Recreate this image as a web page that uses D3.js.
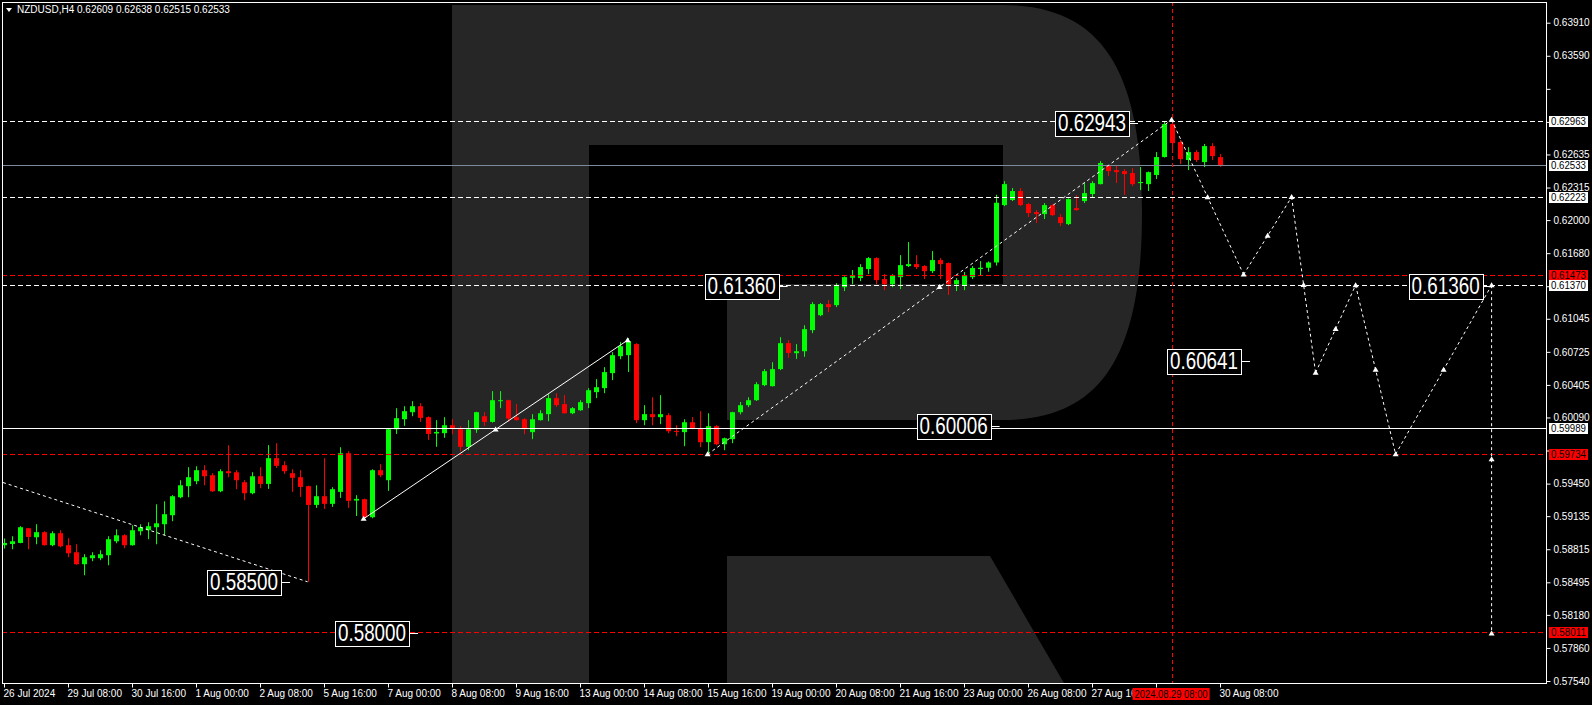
<!DOCTYPE html>
<html><head><meta charset="utf-8">
<script src="https://cdn.jsdelivr.net/npm/d3@7"></script>
<style>html,body{margin:0;padding:0;background:#000;overflow:hidden}svg{display:block}</style>
</head><body>
<svg id="c" width="1592" height="705"></svg>
<script>
// ---------- DATA ----------
const symbolTitle = "NZDUSD,H4  0.62609 0.62638 0.62515 0.62533";
const opens = [0.58854,0.58866,0.58876,0.59018,0.58931,0.58980,0.58854,0.58970,0.58854,0.58786,0.58670,0.58728,0.58728,0.58757,0.58892,0.58950,0.58854,0.58989,0.58999,0.59028,0.59057,0.59144,0.59318,0.59425,0.59473,0.59580,0.59531,0.59376,0.59570,0.59560,0.59463,0.59357,0.59521,0.59447,0.59696,0.59628,0.59551,0.59512,0.59425,0.59244,0.59328,0.59254,0.59370,0.59744,0.59286,0.59299,0.59125,0.59580,0.59483,0.59976,0.60073,0.60141,0.60199,0.60093,0.59935,0.59938,0.60015,0.59976,0.59806,0.59973,0.60102,0.60047,0.60248,0.60257,0.60093,0.60073,0.59948,0.60064,0.60122,0.60277,0.60219,0.60131,0.60160,0.60228,0.60335,0.60374,0.60519,0.60683,0.60693,0.60800,0.60064,0.60122,0.60093,0.60112,0.59960,0.59948,0.60044,0.59986,0.59851,0.60006,0.59831,0.59880,0.60141,0.60209,0.60257,0.60403,0.60393,0.60558,0.60809,0.60712,0.60731,0.60935,0.61080,0.61187,0.61177,0.61351,0.61442,0.61439,0.61526,0.61632,0.61429,0.61380,0.61448,0.61555,0.61574,0.61555,0.61506,0.61613,0.61584,0.61380,0.61371,0.61448,0.61526,0.61539,0.61590,0.62145,0.62194,0.62281,0.62155,0.62077,0.62058,0.62145,0.62029,0.61961,0.62116,0.62184,0.62252,0.62348,0.62523,0.62484,0.62474,0.62455,0.62358,0.62348,0.62436,0.62610,0.62929,0.62755,0.62581,0.62658,0.62561,0.62716,0.62609];
const highs = [0.58919,0.58941,0.59038,0.59022,0.59057,0.58989,0.58989,0.58999,0.58922,0.58863,0.58767,0.58786,0.58805,0.58941,0.59008,0.58960,0.59047,0.59057,0.59076,0.59250,0.59279,0.59338,0.59483,0.59609,0.59618,0.59628,0.59551,0.59589,0.59822,0.59580,0.59483,0.59560,0.59609,0.59822,0.59841,0.59667,0.59589,0.59580,0.59430,0.59434,0.59696,0.59415,0.59802,0.59763,0.59338,0.59305,0.59589,0.59638,0.59985,0.60180,0.60199,0.60248,0.60228,0.60100,0.60064,0.60093,0.60073,0.60006,0.60064,0.60145,0.60141,0.60345,0.60345,0.60262,0.60219,0.60083,0.60122,0.60160,0.60315,0.60325,0.60306,0.60190,0.60257,0.60374,0.60461,0.60577,0.60722,0.60819,0.60858,0.60809,0.60209,0.60286,0.60306,0.60131,0.60015,0.60073,0.60093,0.60151,0.60131,0.60015,0.59895,0.60145,0.60240,0.60286,0.60432,0.60558,0.60625,0.60867,0.60838,0.60800,0.60983,0.61206,0.61197,0.61226,0.61390,0.61455,0.61516,0.61574,0.61642,0.61640,0.61477,0.61475,0.61661,0.61787,0.61661,0.61564,0.61700,0.61632,0.61590,0.61439,0.61497,0.61555,0.61603,0.61600,0.62245,0.62377,0.62310,0.62310,0.62165,0.62097,0.62165,0.62155,0.62058,0.62210,0.62242,0.62358,0.62377,0.62571,0.62532,0.62532,0.62494,0.62503,0.62513,0.62470,0.62658,0.62958,0.62970,0.62774,0.62706,0.62677,0.62736,0.62745,0.62638];
const lows = [0.58822,0.58815,0.58873,0.58815,0.58863,0.58850,0.58844,0.58834,0.58738,0.58665,0.58563,0.58699,0.58709,0.58660,0.58873,0.58825,0.58850,0.58950,0.58912,0.58863,0.58950,0.59086,0.59308,0.59318,0.59444,0.59434,0.59370,0.59367,0.59512,0.59396,0.59289,0.59347,0.59405,0.59399,0.59602,0.59544,0.59370,0.59321,0.58500,0.59215,0.59205,0.59225,0.59312,0.59215,0.59137,0.59110,0.59115,0.59512,0.59380,0.59931,0.60009,0.60102,0.60047,0.59873,0.59806,0.59893,0.59928,0.59763,0.59773,0.59941,0.60009,0.60040,0.60180,0.60047,0.60060,0.59928,0.59880,0.60060,0.60054,0.60193,0.60128,0.60122,0.60155,0.60180,0.60277,0.60325,0.60451,0.60654,0.60529,0.60035,0.60015,0.60015,0.60025,0.59938,0.59909,0.59812,0.59976,0.59802,0.59734,0.59822,0.59773,0.59841,0.60120,0.60190,0.60250,0.60393,0.60390,0.60548,0.60667,0.60657,0.60677,0.60906,0.61070,0.61109,0.61158,0.61313,0.61380,0.61409,0.61477,0.61380,0.61322,0.61351,0.61332,0.61545,0.61526,0.61429,0.61487,0.61429,0.61274,0.61313,0.61322,0.61429,0.61468,0.61500,0.61560,0.62135,0.62184,0.62135,0.62029,0.61971,0.62010,0.62039,0.61942,0.61951,0.62090,0.62165,0.62223,0.62345,0.62426,0.62358,0.62242,0.62329,0.62290,0.62281,0.62397,0.62605,0.62687,0.62542,0.62484,0.62561,0.62513,0.62581,0.62515];
const closes = [0.58876,0.58892,0.59028,0.58934,0.58980,0.58854,0.58970,0.58844,0.58776,0.58670,0.58738,0.58757,0.58767,0.58912,0.58950,0.58854,0.58999,0.59028,0.59038,0.59066,0.59154,0.59328,0.59434,0.59512,0.59580,0.59521,0.59376,0.59570,0.59551,0.59483,0.59357,0.59521,0.59447,0.59696,0.59622,0.59570,0.59506,0.59418,0.59244,0.59328,0.59254,0.59396,0.59744,0.59283,0.59302,0.59125,0.59580,0.59531,0.59976,0.60083,0.60151,0.60199,0.60086,0.59931,0.59950,0.60015,0.59983,0.59806,0.59976,0.60141,0.60047,0.60257,0.60257,0.60080,0.60064,0.59986,0.60073,0.60131,0.60277,0.60209,0.60131,0.60180,0.60238,0.60354,0.60383,0.60529,0.60693,0.60780,0.60829,0.60064,0.60122,0.60093,0.60122,0.59957,0.59950,0.60044,0.59986,0.59851,0.60006,0.59831,0.59889,0.60141,0.60209,0.60257,0.60412,0.60538,0.60558,0.60809,0.60715,0.60731,0.60945,0.61187,0.61187,0.61158,0.61361,0.61448,0.61458,0.61545,0.61632,0.61419,0.61380,0.61468,0.61564,0.61574,0.61545,0.61506,0.61613,0.61574,0.61380,0.61419,0.61458,0.61536,0.61539,0.61590,0.62168,0.62348,0.62281,0.62145,0.62068,0.62058,0.62145,0.62048,0.61971,0.62203,0.62097,0.62261,0.62358,0.62552,0.62474,0.62464,0.62445,0.62348,0.62368,0.62464,0.62610,0.62929,0.62745,0.62590,0.62658,0.62581,0.62716,0.62619,0.62533];

// time axis labels (every 8 bars); "" = label hidden under the cursor box
const timeTickIdx = [0,8,16,24,32,40,48,56,64,72,80,88,96,104,112,120,128,136,144,152];
const timeTickLabels = ["26 Jul 2024","29 Jul 08:00","30 Jul 16:00","1 Aug 00:00","2 Aug 08:00","5 Aug 16:00","7 Aug 00:00","8 Aug 08:00","9 Aug 16:00","13 Aug 00:00","14 Aug 08:00","15 Aug 16:00","19 Aug 00:00","20 Aug 08:00","21 Aug 16:00","23 Aug 00:00","26 Aug 08:00","27 Aug 16:00","","30 Aug 08:00"];
const cursorIdx = 146;
const cursorLabel = "2024.08.29 08:00";

// price axis ticks
const priceTicks = [0.63910,0.63590,0.63270,0.62950,0.62635,0.62315,0.62000,0.61680,0.61360,0.61045,0.60725,0.60405,0.60090,0.59770,0.59450,0.59135,0.58815,0.58495,0.58180,0.57860,0.57540];
const hiddenTickLabels = [0.63270,0.62950,0.61360,0.59770];

// horizontal levels
const levelPrices = [0.62963,0.62533,0.62223,0.61473,0.61370,0.59989,0.59734,0.58011];
const levelKinds  = ["dashW","bid","dashW","dashR","dashW","solidW","dashR","dashR"];

// trend lines (bar index, price)
const trendA = [[-45,0.60594],[38,0.58500]];
const trendB = [[45,0.59110],[78,0.60838]];
const trendC = [[88,0.59734],[146,0.62970]];
// forecast path
const fcIdx   = [146,155,161,164,169,174,186,186];
const fcPrice = [0.62970,0.61473,0.62223,0.60523,0.61370,0.59734,0.61370,0.58000];

// boxed text labels
const labelTexts  = ["0.62943","0.61360","0.61360","0.60641","0.60006","0.58500","0.58000"];
const labelIdx    = [141.8,98,186,155.8,124.5,35.8,51.8];
const labelPrices = [0.62943,0.61360,0.61360,0.60641,0.60006,0.58500,0.58000];

// ---------- DRAW ----------
const W=1592,H=705;
const plot={l:2,t:2,r:1546,b:683};
const svg=d3.select("#c");
const x=d3.scaleLinear().domain([0,152]).range([3.6,1219.6]);
const y=d3.scaleLinear().domain([0.57540,0.63910]).range([681,22.7]);
const font="Liberation Sans, Arial, sans-serif";

svg.append("rect").attr("width",W).attr("height",H).attr("fill","#000");
const defs=svg.append("defs");
defs.append("clipPath").attr("id","pc").append("rect")
  .attr("x",plot.l).attr("y",plot.t).attr("width",plot.r-plot.l).attr("height",plot.b-plot.t);
const cx0=x(cursorIdx);
defs.append("clipPath").attr("id","tc").append("rect")
  .attr("x",0).attr("y",plot.b).attr("width",cx0-39).attr("height",H-plot.b);
const g=svg.append("g").attr("clip-path","url(#pc)");

// watermark R
const wm="#262626";
g.append("path").attr("fill",wm)
 .attr("d","M452,5 H1003 C1105,5 1142,75 1142,212 C1142,350 1105,420 1003,420 H727 V284 H1003 V145 H589 V690 H452 Z");
g.append("path").attr("fill",wm)
 .attr("d","M727,556 H990 L1068,690 H727 Z");

// candles
const bars=d3.range(opens.length).map(i=>({i,o:opens[i],h:highs[i],l:lows[i],c:closes[i]}));
const cg=g.append("g");
bars.forEach(d=>{
  const col=d.c>=d.o?"#00ff00":"#ff0000";
  const cx=Math.round(x(d.i))+0.5;
  cg.append("line").attr("x1",cx).attr("x2",cx).attr("y1",y(d.h)).attr("y2",y(d.l)).attr("stroke",col).attr("stroke-width",1);
  const top=y(Math.max(d.o,d.c)), bot=y(Math.min(d.o,d.c));
  cg.append("rect").attr("x",cx-2.5).attr("width",5).attr("y",top).attr("height",Math.max(1,bot-top)).attr("fill",col);
});

// horizontal levels
levelPrices.forEach((p,k)=>{
  const kind=levelKinds[k];
  const yy=Math.round(y(p))+0.5;
  const ln=g.append("line").attr("x1",plot.l).attr("x2",plot.r).attr("y1",yy).attr("y2",yy).attr("stroke-width",1);
  if(kind==="dashW") ln.attr("stroke","#fff").attr("stroke-dasharray","5,3");
  else if(kind==="dashR") ln.attr("stroke","#ff0000").attr("stroke-dasharray","5,3");
  else if(kind==="bid") ln.attr("stroke","#7b8b9b");
  else ln.attr("stroke","#fff");
});
// vertical cursor
g.append("line").attr("x1",Math.round(cx0)+0.5).attr("x2",Math.round(cx0)+0.5)
 .attr("y1",plot.t).attr("y2",plot.b).attr("stroke","#ff0000").attr("stroke-dasharray","4,3");

// trend lines
function seg(pts,dash){
  const l=g.append("line").attr("x1",x(pts[0][0])).attr("y1",y(pts[0][1])).attr("x2",x(pts[1][0])).attr("y2",y(pts[1][1]))
    .attr("stroke","#fff").attr("stroke-width",1);
  if(dash) l.attr("stroke-dasharray",dash);
}
function marker(px,py){
  g.append("path").attr("d",`M${px-3},${py+2} L${px},${py-3} L${px+3},${py+2} Z`).attr("fill","#fff");
}
seg(trendA,"3,3");
seg(trendB,null);
seg(trendC,"3,3");
[trendB,trendC].forEach(t=>{
  marker(x(t[0][0]),y(t[0][1]));marker(x(t[1][0]),y(t[1][1]));
  marker((x(t[0][0])+x(t[1][0]))/2,(y(t[0][1])+y(t[1][1]))/2);
});
for(let k=0;k<fcIdx.length-1;k++){
  seg([[fcIdx[k],fcPrice[k]],[fcIdx[k+1],fcPrice[k+1]]],"3,3");
  const x0=x(fcIdx[k]),y0=y(fcPrice[k]),x1=x(fcIdx[k+1]),y1=y(fcPrice[k+1]);
  marker((x0+x1)/2,(y0+y1)/2);
  marker(x1,y1);
}

// boxed labels
labelTexts.forEach((t,k)=>{
  const ax=x(labelIdx[k]), ay=Math.round(y(labelPrices[k]));
  const bw=74,bh=25,br=ax-9;
  g.append("line").attr("x1",br).attr("x2",ax).attr("y1",ay+0.5).attr("y2",ay+0.5).attr("stroke","#fff");
  g.append("rect").attr("x",Math.round(br-bw)+0.5).attr("y",ay-12+0.5).attr("width",bw).attr("height",bh)
   .attr("fill","#000").attr("stroke","#fff").attr("stroke-width",1);
  g.append("text").attr("x",br-bw/2).attr("y",ay+8).attr("text-anchor","middle")
   .attr("fill","#fff").attr("font-family",font).attr("font-size",23)
   .attr("textLength",68).attr("lengthAdjust","spacingAndGlyphs").text(t);
});

// frame
svg.append("rect").attr("x",plot.l+0.5).attr("y",plot.t+0.5).attr("width",plot.r-plot.l).attr("height",plot.b-plot.t)
  .attr("fill","none").attr("stroke","#fff");

// price axis
const ax=svg.append("g").attr("transform",`translate(${plot.r+0.5},0)`)
  .call(d3.axisRight(y).tickValues(priceTicks).tickSize(4).tickPadding(3)
    .tickFormat(v=>hiddenTickLabels.includes(v)?"":d3.format(".5f")(v)));
ax.select(".domain").remove();
ax.selectAll("line").attr("stroke","#fff");
ax.selectAll("text").attr("fill","#fff").attr("font-family",font).attr("font-size",10);

// level price boxes on axis
levelPrices.forEach((p,k)=>{
  const red=levelKinds[k]==="dashR";
  const yy=Math.round(y(p));
  svg.append("rect").attr("x",1549).attr("y",yy-5).attr("width",39).attr("height",11).attr("fill",red?"#ff0000":"#fff");
  svg.append("text").attr("x",1551).attr("y",yy+4).attr("fill","#000").attr("font-family",font).attr("font-size",10)
    .attr("textLength",35).attr("lengthAdjust","spacingAndGlyphs").text(d3.format(".5f")(p));
});

// time axis
const tx=svg.append("g").attr("transform",`translate(0,${plot.b+0.5})`);
const txt=svg.append("g").attr("clip-path","url(#tc)");
timeTickIdx.forEach((ti,k)=>{
  const xx=Math.round(x(ti))+0.5;
  tx.append("line").attr("x1",xx).attr("x2",xx).attr("y1",0).attr("y2",4).attr("stroke","#fff");
  if(timeTickLabels[k]){
    const parent = xx < cx0 ? txt : svg;
    parent.append("text").attr("x",xx-1).attr("y",plot.b+14).attr("fill","#fff").attr("font-family",font).attr("font-size",10).text(timeTickLabels[k]);
  }
});
svg.append("rect").attr("x",cx0-39).attr("y",688).attr("width",77).attr("height",12).attr("fill","#ff0000");
svg.append("text").attr("x",cx0-37).attr("y",697.5).attr("fill","#000").attr("font-family",font).attr("font-size",10)
  .attr("textLength",73).attr("lengthAdjust","spacingAndGlyphs").text(cursorLabel);

// header
svg.append("path").attr("d","M6,8 L12,8 L9,12 Z").attr("fill","#fff");
svg.append("text").attr("x",17).attr("y",13).attr("fill","#fff").attr("font-family",font).attr("font-size",10).text(symbolTitle);
</script>
</body></html>
